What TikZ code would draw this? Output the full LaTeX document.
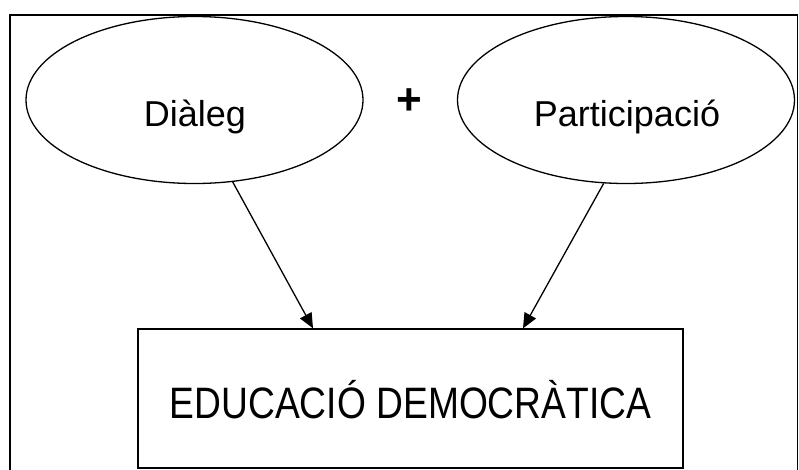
\documentclass[tikz,border=0pt]{standalone}
\usepackage{fontspec}
\setmainfont{Liberation Sans}
\usetikzlibrary{shapes.geometric,arrows.meta}
\begin{document}
\begin{tikzpicture}[x=1pt, y=-1pt, line width=1.3pt,
		bubble/.style={draw, ellipse, inner sep=0, minimum width=337, minimum height=167},
		goal/.style={draw, rectangle, inner sep=0, minimum width=545, minimum height=139},
		word/.style={anchor=base, inner sep=0, font=\fontsize{36}{40}\selectfont},
		feed/.style={-{Triangle[length=15pt, width=13pt]}, line width=1.3pt}]
		\useasboundingbox(0, 0) rectangle (799, 469);
		\draw(10, 15) rectangle (797.5, 480);

		\node[bubble] (dialeg) at(194.5, 100){};
			\node[word] (dialegtxt) at(195, 126.7){Diàleg};
		\node[bubble] (partic) at(626, 100){};
			\node[word] (partictxt) at(627, 126.7){Participació};
		\node[inner sep=0, font=\fontsize{44}{46}\selectfont\bfseries] (plus) at(409, 102){+};

		%%%%%%%%%%%%%%%%%%%%%%%%%%%%
		\node[goal] (edu) at(410.5, 398.5){};
			\node[word, font=\fontsize{44}{48}\selectfont] (edutxt) at(410.5, 418)
				{\scalebox{0.845}[1]{EDUCACIÓ DEMOCRÀTICA}};

		\draw[feed](dialeg.-65) to ([xshift=-97.5]edu.north);
		\draw[feed](partic.-105.5) to ([xshift=112.5]edu.north);
\end{tikzpicture}
\end{document}
